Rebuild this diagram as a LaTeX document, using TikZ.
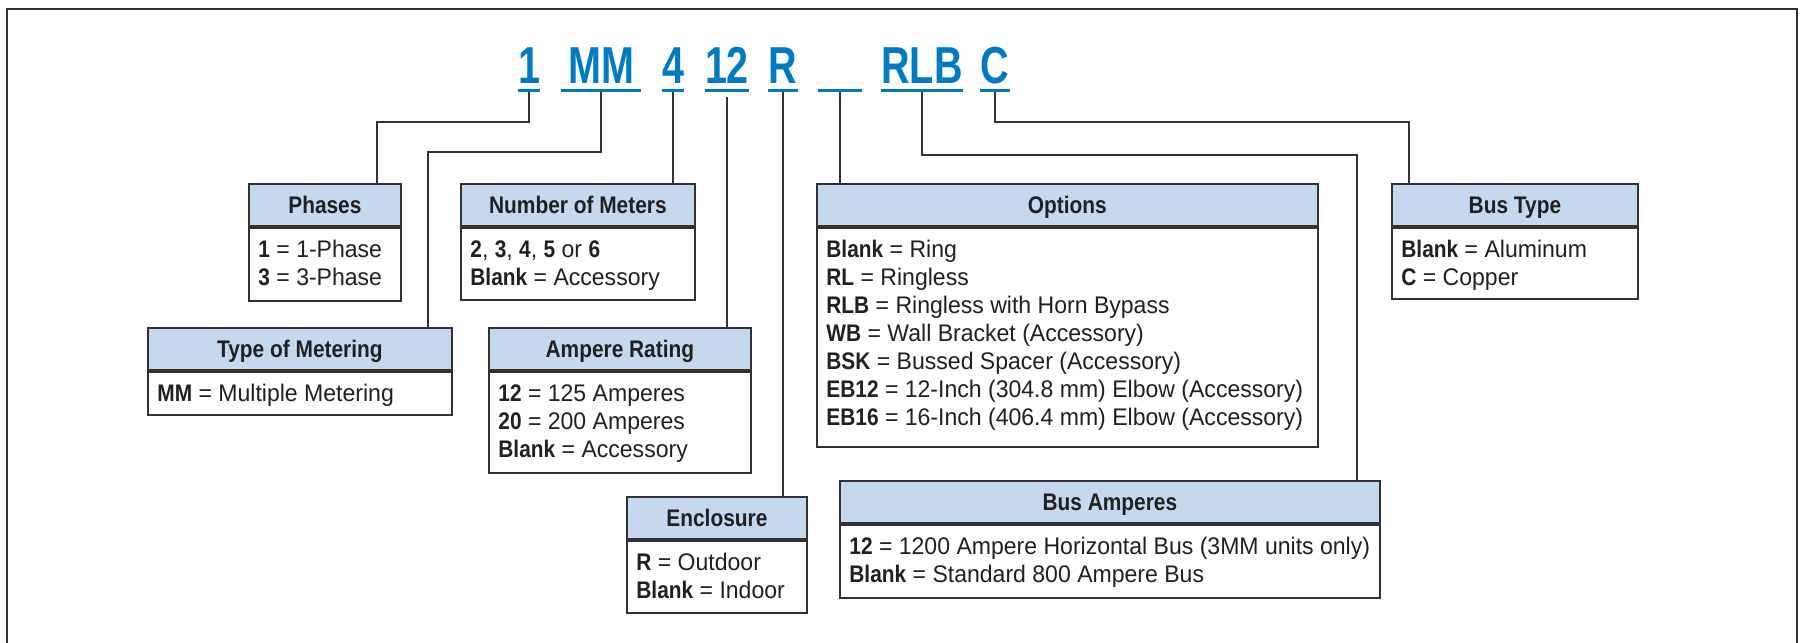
\documentclass[tikz,border=0pt]{standalone}
\usepackage{fontspec}
\setmainfont{Liberation Sans}[UprightFeatures={FakeStretch=0.96},BoldFeatures={FakeStretch=0.87}]
\newfontfamily\codefont{Liberation Sans}[FakeStretch=0.76]
\usetikzlibrary{calc}
\definecolor{codeblue}{RGB}{0,122,195}
\definecolor{hdrfill}{RGB}{198,216,239}
\definecolor{linegray}{RGB}{50,50,50}
\definecolor{ink}{RGB}{35,31,32}
\newcommand{\boxlines}[2]{%
  \foreach \myline [count=\idx] in {#2} {
    \node[btxt] (#1-\idx) at ($(#1.north west)+(10,{31+28*(\idx-1)})$) {\myline};
  }}
\begin{document}
\begin{tikzpicture}[x=0.5pt,y=-0.5pt,
  frame/.style={draw=linegray,line width=0.9pt},
  conn/.style={draw=linegray,line width=0.75pt},
  hdr/.style={draw=linegray,line width=0.9pt,fill=hdrfill,anchor=north west,minimum height=21pt,
    inner sep=0pt,text height=8.6pt,text depth=0pt,font=\fontsize{12pt}{14pt}\selectfont\bfseries,text=ink},
  bodybox/.style={draw=linegray,line width=0.9pt,fill=white,anchor=north,inner sep=0pt},
  btxt/.style={anchor=base west,inner sep=0pt,font=\fontsize{12pt}{14pt}\selectfont,text=ink},
  code/.style={anchor=base,inner sep=0pt,font=\codefont\fontsize{26pt}{28pt}\selectfont\bfseries,text=codeblue},
  uline/.style={draw=codeblue,line width=1.5pt}]
\useasboundingbox (0,0) rectangle (1806,643);
% outer frame (open at the bottom)
\draw[frame] (7,650) -- (7,9) -- (1797,9) -- (1797,650);

% model code
\node[code,minimum width=10.5pt] (c1) at (529,83) {1};
\node[code,minimum width=40pt] (c2) at (601,83) {MM};
\node[code,minimum width=10.5pt] (c3) at (673,83) {4};
\node[code,minimum width=21.5pt] (c4) at (727,83) {12};
\node[code,minimum width=13.5pt] (c5) at (783,83) {R};
\node[code,minimum width=21.5pt] (c6) at (840,83) {};
\node[code,minimum width=38.5pt] (c7) at (922,83) {RLB};
\node[code,minimum width=13.5pt] (c8) at (995,83) {C};
\foreach \c in {c1,c2,c3,c4,c5,c6,c7,c8}
  \draw[uline] ([yshift=-3.5pt]\c.base west) -- ([yshift=-3.5pt]\c.base east);

% boxes
\node[hdr,minimum width=76pt] (ph) at (248,183) {Phases};
\node[bodybox,minimum width=76pt,minimum height=36.5pt] (phB) at (ph.south) {};
\boxlines{phB}{{\textbf{1} = 1-Phase},{\textbf{3} = 3-Phase}}

\node[hdr,minimum width=117pt] (nm) at (460,183) {Number of Meters};
\node[bodybox,minimum width=117pt,minimum height=36pt] (nmB) at (nm.south) {};
\boxlines{nmB}{{\textbf{2}, \textbf{3}, \textbf{4}, \textbf{5} or \textbf{6}},{\textbf{Blank} = Accessory}}

\node[hdr,minimum width=152pt] (tm) at (147,327) {Type of Metering};
\node[bodybox,minimum width=152pt,minimum height=21.5pt] (tmB) at (tm.south) {};
\boxlines{tmB}{{\textbf{MM} = Multiple Metering}}

\node[hdr,minimum width=131pt] (ar) at (488,327) {Ampere Rating};
\node[bodybox,minimum width=131pt,minimum height=50.5pt] (arB) at (ar.south) {};
\boxlines{arB}{{\textbf{12} = 125 Amperes},{\textbf{20} = 200 Amperes},{\textbf{Blank} = Accessory}}

\node[hdr,minimum width=90pt] (en) at (626,496) {Enclosure};
\node[bodybox,minimum width=90pt,minimum height=36pt] (enB) at (en.south) {};
\boxlines{enB}{{\textbf{R} = Outdoor},{\textbf{Blank} = Indoor}}

\node[hdr,minimum width=250.5pt] (op) at (816,183) {Options};
\node[bodybox,minimum width=250.5pt,minimum height=109.5pt] (opB) at (op.south) {};
\boxlines{opB}{{\textbf{Blank} = Ring},{\textbf{RL} = Ringless},{\textbf{RLB} = Ringless with Horn Bypass},{\textbf{WB} = Wall Bracket (Accessory)},{\textbf{BSK} = Bussed Spacer (Accessory)},{\textbf{EB12} = 12-Inch (304.8 mm) Elbow (Accessory)},{\textbf{EB16} = 16-Inch (406.4 mm) Elbow (Accessory)}}

\node[hdr,minimum width=270pt] (ba) at (839,480) {Bus Amperes};
\node[bodybox,minimum width=270pt,minimum height=36.5pt] (baB) at (ba.south) {};
\boxlines{baB}{{\textbf{12} = 1200 Ampere Horizontal Bus (3MM units only)},{\textbf{Blank} = Standard 800 Ampere Bus}}

\node[hdr,minimum width=123pt] (bt) at (1391,183) {Bus Type};
\node[bodybox,minimum width=123pt,minimum height=35.5pt] (btB) at (bt.south) {};
\boxlines{btB}{{\textbf{Blank} = Aluminum},{\textbf{C} = Copper}}

% connectors
\coordinate (k1) at (377,122);
\coordinate (k2) at (428,152);
\coordinate (k7) at (1357,155);
\coordinate (k8) at (1409,122);
\draw[conn] ([yshift=-4.5pt]c1.base) |- (k1) -- (k1 |- ph.north);
\draw[conn] ([yshift=-4.5pt]c2.base) |- (k2) -- (k2 |- tm.north);
\draw[conn] ([yshift=-4.5pt]c3.base) -- (c3.base |- nm.north);
\draw[conn] ([yshift=-7pt]c4.base) -- (c4.base |- ar.north);
\draw[conn] ([yshift=-4.5pt]c5.base) -- (c5.base |- en.north);
\draw[conn] ([yshift=-4.5pt]c6.base) -- (c6.base |- op.north);
\draw[conn] ([yshift=-4.5pt]c7.base) |- (k7) -- (k7 |- ba.north);
\draw[conn] ([yshift=-4.5pt]c8.base) |- (k8) -- (k8 |- bt.north);
\end{tikzpicture}
\end{document}
